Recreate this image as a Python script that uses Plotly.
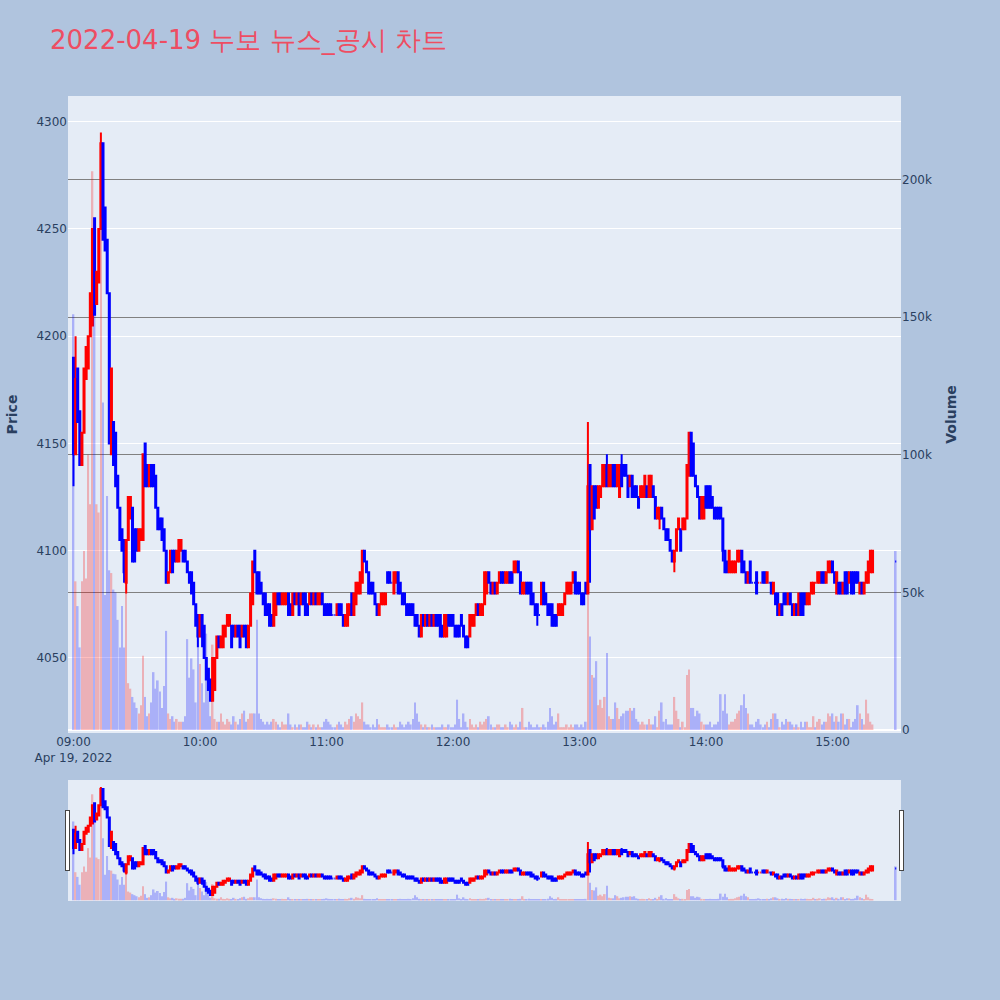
"""Minute candle chart with volume overlay for 2022-04-19 (누보)."""
import pandas as pd
import plotly.graph_objects as go
from plotly.subplots import make_subplots

title = '2022-04-19 누보 뉴스_공시 차트'

# minute candles 09:00 .. 15:19, then the 15:30 closing auction
opens = [
    4190, 4145, 4185, 4165, 4140, 4155, 4180, 4185, 4200, 4205,  # 09:00
    4255, 4215, 4225, 4250, 4290, 4260, 4245, 4220, 4145, 4160,
    4155, 4135, 4120, 4110, 4105, 4085, 4105, 4115, 4120, 4110,
    4110, 4100, 4105, 4105, 4150, 4140, 4130, 4140, 4140, 4135,
    4120, 4115, 4115, 4110, 4100, 4085, 4090, 4100, 4100, 4095,
    4095, 4100, 4100, 4100, 4095, 4090, 4090, 4085, 4075, 4070,
    4060, 4070, 4065, 4050, 4045, 4040, 4030, 4035, 4050, 4060,  # 10:00
    4055, 4055, 4060, 4065, 4065, 4065, 4065, 4060, 4065, 4065,
    4060, 4065, 4065, 4055, 4065, 4075, 4100, 4090, 4090, 4085,
    4080, 4080, 4075, 4075, 4070, 4065, 4070, 4080, 4080, 4075,
    4075, 4075, 4080, 4075, 4070, 4080, 4075, 4080, 4075, 4080,
    4080, 4075, 4075, 4080, 4075, 4080, 4075, 4075, 4080, 4075,
    4075, 4075, 4075, 4070, 4070, 4070, 4075, 4075, 4070, 4065,  # 11:00
    4065, 4070, 4080, 4070, 4075, 4080, 4080, 4085, 4100, 4095,
    4090, 4085, 4085, 4080, 4075, 4070, 4075, 4075, 4075, 4090,
    4090, 4085, 4080, 4085, 4090, 4085, 4080, 4080, 4075, 4075,
    4075, 4075, 4070, 4070, 4065, 4060, 4070, 4065, 4070, 4065,
    4070, 4065, 4070, 4070, 4070, 4065, 4060, 4060, 4070, 4070,
    4070, 4065, 4065, 4065, 4070, 4065, 4060, 4060, 4060, 4065,  # 12:00
    4065, 4070, 4075, 4070, 4070, 4075, 4080, 4090, 4085, 4080,
    4085, 4080, 4085, 4090, 4090, 4085, 4085, 4090, 4090, 4090,
    4090, 4095, 4090, 4080, 4080, 4085, 4085, 4085, 4080, 4075,
    4075, 4070, 4075, 4085, 4080, 4075, 4075, 4075, 4070, 4070,
    4070, 4070, 4070, 4075, 4080, 4080, 4080, 4085, 4090, 4085,
    4085, 4080, 4080, 4085, 4080, 4140, 4110, 4130, 4130, 4120,  # 13:00
    4125, 4130, 4130, 4140, 4130, 4130, 4140, 4140, 4130, 4125,
    4140, 4140, 4140, 4135, 4130, 4135, 4130, 4130, 4125, 4125,
    4125, 4125, 4130, 4125, 4125, 4130, 4125, 4115, 4115, 4120,
    4115, 4110, 4110, 4105, 4100, 4095, 4100, 4110, 4110, 4110,
    4110, 4115, 4135, 4155, 4150, 4135, 4130, 4125, 4115, 4115,
    4130, 4130, 4130, 4125, 4120, 4120, 4120, 4120, 4115, 4100,  # 14:00
    4095, 4090, 4090, 4090, 4090, 4095, 4095, 4100, 4095, 4090,
    4085, 4095, 4085, 4085, 4090, 4085, 4085, 4090, 4090, 4085,
    4085, 4085, 4080, 4080, 4080, 4070, 4075, 4080, 4080, 4075,
    4080, 4075, 4070, 4075, 4070, 4080, 4080, 4080, 4075, 4075,
    4080, 4080, 4085, 4085, 4085, 4090, 4090, 4085, 4090, 4090,
    4095, 4090, 4080, 4085, 4085, 4080, 4090, 4090, 4085, 4090,  # 15:00
    4090, 4090, 4090, 4080, 4085, 4080, 4085, 4085, 4090, 4090,
    4095,  # 15:30
]

closes = [
    4145, 4180, 4160, 4140, 4155, 4185, 4195, 4200, 4220, 4250,  # 09:00
    4210, 4230, 4250, 4290, 4245, 4240, 4220, 4150, 4185, 4140,
    4130, 4120, 4105, 4100, 4090, 4105, 4125, 4125, 4095, 4095,
    4100, 4110, 4110, 4145, 4130, 4130, 4140, 4130, 4130, 4120,
    4110, 4110, 4105, 4100, 4085, 4090, 4100, 4090, 4095, 4100,
    4105, 4105, 4095, 4095, 4090, 4085, 4080, 4075, 4065, 4060,
    4070, 4060, 4050, 4040, 4035, 4030, 4050, 4050, 4060, 4055,  # 10:00
    4060, 4065, 4065, 4070, 4070, 4055, 4060, 4065, 4060, 4055,
    4065, 4060, 4055, 4065, 4080, 4095, 4090, 4080, 4080, 4080,
    4075, 4070, 4070, 4065, 4065, 4080, 4080, 4075, 4075, 4080,
    4080, 4080, 4070, 4070, 4080, 4075, 4080, 4070, 4080, 4075,
    4070, 4070, 4080, 4075, 4080, 4075, 4080, 4080, 4075, 4070,
    4070, 4070, 4070, 4070, 4070, 4075, 4070, 4070, 4065, 4070,  # 11:00
    4075, 4075, 4070, 4080, 4085, 4085, 4090, 4100, 4095, 4090,
    4080, 4080, 4080, 4075, 4070, 4075, 4080, 4080, 4080, 4085,
    4085, 4085, 4090, 4090, 4080, 4080, 4075, 4075, 4070, 4070,
    4070, 4070, 4065, 4065, 4060, 4070, 4065, 4070, 4065, 4070,
    4065, 4070, 4065, 4065, 4060, 4060, 4070, 4070, 4065, 4065,
    4065, 4060, 4060, 4060, 4065, 4060, 4055, 4055, 4070, 4070,  # 12:00
    4070, 4075, 4070, 4075, 4075, 4090, 4090, 4085, 4080, 4085,
    4080, 4085, 4090, 4085, 4085, 4090, 4090, 4085, 4085, 4095,
    4095, 4090, 4080, 4085, 4085, 4080, 4080, 4075, 4075, 4070,
    4070, 4070, 4085, 4075, 4075, 4070, 4070, 4065, 4065, 4065,
    4075, 4075, 4075, 4080, 4085, 4085, 4085, 4090, 4080, 4080,
    4080, 4075, 4075, 4080, 4130, 4110, 4130, 4115, 4120, 4130,  # 13:00
    4130, 4140, 4140, 4130, 4140, 4140, 4130, 4130, 4140, 4140,
    4130, 4135, 4135, 4125, 4135, 4125, 4125, 4125, 4120, 4130,
    4130, 4135, 4125, 4135, 4135, 4125, 4115, 4120, 4120, 4115,
    4110, 4105, 4105, 4100, 4095, 4100, 4110, 4115, 4100, 4115,
    4115, 4140, 4155, 4135, 4135, 4130, 4125, 4115, 4125, 4125,
    4120, 4120, 4120, 4120, 4115, 4115, 4115, 4115, 4100, 4090,  # 14:00
    4090, 4100, 4095, 4095, 4095, 4100, 4100, 4090, 4090, 4085,
    4090, 4085, 4085, 4085, 4080, 4085, 4085, 4085, 4085, 4090,
    4085, 4080, 4085, 4075, 4070, 4075, 4070, 4075, 4075, 4080,
    4075, 4070, 4075, 4070, 4080, 4070, 4070, 4075, 4080, 4080,
    4085, 4085, 4085, 4090, 4090, 4085, 4085, 4090, 4095, 4095,
    4090, 4085, 4090, 4080, 4080, 4085, 4080, 4080, 4090, 4080,  # 15:00
    4080, 4085, 4085, 4085, 4080, 4085, 4090, 4095, 4100, 4100,
    4095,  # 15:30
]

# wicks that stick out of the candle body (minute index -> price)
wick_high = {1: 4200, 13: 4295, 15: 4260, 34: 4150, 86: 4100,
             244: 4160, 253: 4145, 260: 4145, 292: 4155}
wick_low = {0: 4130, 24: 4085, 25: 4080, 59: 4055, 61: 4055, 65: 4030,
            220: 4065, 245: 4085, 278: 4110, 285: 4090, 308: 4095}

# traded volume, thousands of shares
volume_k = [
    151, 54, 45, 30, 54, 65, 55, 100, 82, 203,  # 09:00
    152, 82, 79, 186, 119, 49, 85, 58, 57, 51,
    50, 40, 30, 45, 30, 50, 17, 15, 12, 10,
    8, 6, 9, 27, 12, 5, 6, 10, 21, 15,
    18, 14, 8, 16, 36, 6, 4, 5, 3, 4,
    3, 3, 3, 5, 33, 19, 26, 22, 10, 33,
    24, 17, 10, 35, 15, 5, 31, 4, 3, 3,  # 10:00
    6, 3, 2, 4, 3, 2, 5, 3, 2, 4,
    6, 7, 3, 4, 6, 6, 6, 40, 6, 4,
    3, 2, 3, 2, 3, 4, 3, 2, 1, 3,
    2, 2, 6, 2, 1, 2, 1, 2, 2, 1,
    1, 3, 2, 1, 2, 1, 2, 1, 1, 3,
    4, 3, 2, 1, 1, 2, 3, 2, 1, 3,  # 11:00
    2, 4, 5, 3, 6, 5, 4, 10, 3, 2,
    2, 1, 2, 1, 4, 2, 1, 1, 1, 2,
    1, 1, 2, 1, 1, 3, 2, 1, 2, 3,
    2, 4, 10, 6, 3, 2, 1, 2, 1, 1,
    2, 1, 1, 1, 1, 2, 1, 1, 2, 1,
    1, 2, 11, 4, 1, 6, 3, 1, 4, 2,  # 12:00
    1, 2, 1, 3, 2, 3, 4, 5, 2, 1,
    1, 2, 2, 1, 1, 2, 1, 3, 2, 1,
    2, 1, 3, 8, 1, 1, 3, 2, 1, 1,
    2, 1, 1, 2, 1, 3, 8, 5, 2, 3,
    6, 1, 1, 1, 2, 1, 2, 1, 2, 2,
    1, 2, 1, 3, 50, 34, 20, 19, 25, 9,  # 13:00
    11, 8, 12, 28, 5, 4, 4, 10, 8, 4,
    5, 6, 7, 7, 8, 7, 8, 4, 3, 2,
    3, 2, 2, 4, 2, 2, 5, 1, 7, 10,
    3, 4, 2, 2, 2, 12, 7, 4, 1, 3,
    1, 20, 22, 8, 8, 5, 7, 6, 3, 2,
    2, 2, 3, 1, 2, 2, 3, 13, 7, 13,  # 14:00
    6, 2, 3, 3, 4, 6, 7, 9, 13, 8,
    6, 2, 2, 1, 3, 4, 2, 1, 2, 3,
    1, 4, 6, 6, 4, 1, 3, 2, 4, 3,
    3, 2, 1, 2, 1, 3, 1, 3, 3, 1,
    1, 5, 1, 3, 4, 2, 3, 3, 6, 5,
    6, 3, 5, 3, 6, 6, 2, 4, 4, 1,  # 15:00
    3, 4, 9, 6, 4, 2, 11, 6, 3, 2,
    65,  # 15:30
]

times = list(pd.date_range('2022-04-19 09:00', periods=len(closes) - 1, freq='min'))
times.append(pd.Timestamp('2022-04-19 15:30'))

highs = [max(o, c, wick_high.get(i, 0)) for i, (o, c) in enumerate(zip(opens, closes))]
lows = [min(o, c, wick_low.get(i, 10 ** 6)) for i, (o, c) in enumerate(zip(opens, closes))]
volumes = [v * 1000 for v in volume_k]
bar_colors = ['red' if c > o else 'blue' for o, c in zip(opens, closes)]

fig = make_subplots(specs=[[{'secondary_y': True}]])

fig.add_trace(go.Candlestick(
    x=times, open=opens, high=highs, low=lows, close=closes,
    increasing=dict(line=dict(color='red'), fillcolor='red'),
    decreasing=dict(line=dict(color='blue'), fillcolor='blue'),
    name='Price',
), secondary_y=False)

fig.add_trace(go.Bar(
    x=times, y=volumes,
    marker=dict(color=bar_colors, line=dict(width=0)),
    opacity=0.25,
    name='Volume',
), secondary_y=True)

x_range = ['2022-04-19 08:57:24', '2022-04-19 15:32:30']

fig.update_layout(
    width=1000, height=1000,
    font=dict(family='Verdana, "DejaVu Sans", sans-serif'),
    title=dict(text=title, x=0.05, xanchor='left', y=0.96, yanchor='middle',
               font=dict(size=26, color='#EE4D62')),
    paper_bgcolor='lightsteelblue',
    plot_bgcolor='#E5ECF6',
    showlegend=False,
    margin=dict(l=68, r=99, t=96, b=100),
    bargap=0.2,
)

fig.update_xaxes(
    domain=[0, 1], range=x_range, showgrid=False,
    dtick=3600000, tick0='2022-04-19 09:00',
    rangeslider=dict(visible=True, thickness=0.15, bgcolor='#E5ECF6', range=x_range),
)
fig.update_yaxes(title=dict(text='<b>Price</b>', font=dict(size=14)),
                 range=[4015, 4312], dtick=50, automargin=False, secondary_y=False)
fig.update_yaxes(title=dict(text='<b>Volume</b>', font=dict(size=14)),
                 range=[-1100, 230300], dtick=50000, gridcolor='gray',
                 zerolinecolor='white', automargin=False, secondary_y=True)

fig.write_html('out.html', config={'displayModeBar': False},
               post_script="document.body.style.margin = '0';")
